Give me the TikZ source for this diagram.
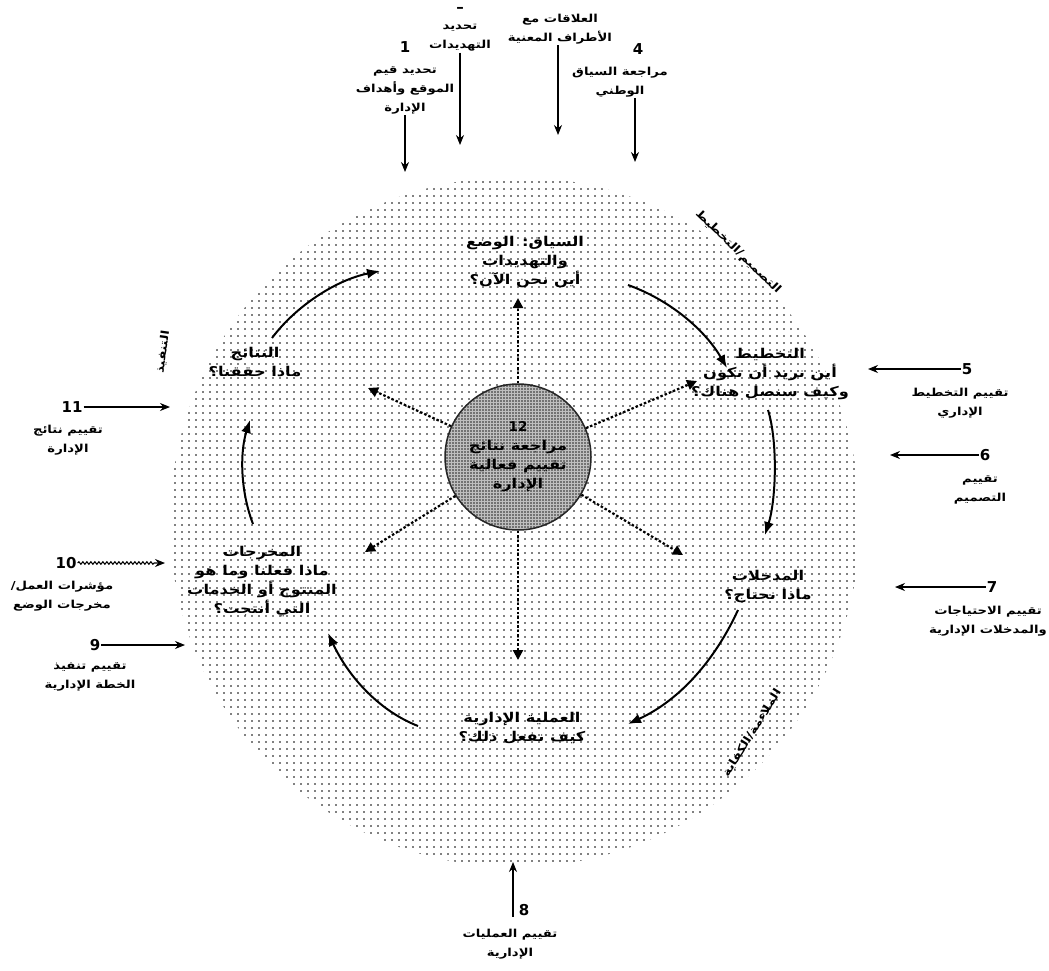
\documentclass[tikz,border=0pt]{standalone}
\usepackage{fontspec}
\newfontfamily\arabicfont[Script=Arabic,FakeStretch=1.2]{DejaVu Sans}
\newfontfamily\numfont{DejaVu Sans}
\TeXXeTstate=1
\usetikzlibrary{arrows.meta,patterns.meta,decorations.pathmorphing}
\newcommand{\ar}[1]{{\arabicfont\beginR #1\endR}}

\begin{document}
\begin{tikzpicture}[x=1pt,y=-1pt,
  stage/.style={font=\fontsize{13.5}{19}\selectfont\bfseries,align=center,inner sep=1pt},
  lbl/.style={font=\fontsize{11}{19}\selectfont\bfseries,align=center,inner sep=1pt},
  num/.style={font=\numfont\fontsize{15}{15}\selectfont\bfseries,inner sep=1pt},
  rim/.style={font=\fontsize{11}{11}\selectfont\bfseries,inner sep=1pt},
  cyc/.style={line width=2pt,-{Latex[length=13pt,width=10pt]}},
  link/.style={line width=2.2pt,dash pattern=on 2.5pt off 2pt,-{Triangle[length=10pt,width=10pt]}},
  feed/.style={line width=1.1pt,-{Stealth[length=10pt,width=8pt]}}]
\useasboundingbox (0,0) rectangle (1049,971);
\fill[white] (0,0) rectangle (1049,971);
\path[pattern={Dots[distance=6.5pt,radius=0.95pt]},pattern color=black] (515,522) circle[radius=345];
\node[circle,minimum size=146pt,inner sep=0pt,fill=gray!50,draw=black!85,line width=1.5pt,
  postaction={pattern={Dots[distance=3pt,radius=0.9pt]},pattern color=black!85},stage] (core) at (518,457)
  {{\numfont 12}\\\ar{مراجعة نتائج}\\\ar{تقييم فعالية}\\\ar{الإدارة}};
\node[stage] (ctx) at (525,262) {\ar{السياق: الوضع}\\\ar{والتهديدات}\\\ar{أين نحن الآن؟}};
\node[stage] (plan) at (770,374) {\ar{التخطيط}\\\ar{أين نريد أن نكون}\\\ar{وكيف سنصل هناك؟}};
\node[stage] (inp) at (768,587) {\ar{المدخلات}\\\ar{ماذا نحتاج؟}};
\node[stage] (proc) at (522,728) {\ar{العملية الإدارية}\\\ar{كيف نفعل ذلك؟}};
\node[stage] (outp) at (262,582) {\ar{المخرجات}\\\ar{ماذا فعلنا وما هو}\\\ar{المنتوج أو الخدمات}\\\ar{التي أنتجت؟}};
\node[stage] (outc) at (255,362) {\ar{النتائج}\\\ar{ماذا حققنا؟}};
\node[rim,rotate=-44] (rimplan) at (738,252) {\ar{التصميم/التخطيط}};
\node[rim,rotate=58] (rimfit) at (752,733) {\ar{الملاءمة/الكفاية}};
\node[rim,rotate=82] (rimdel) at (163,352) {\ar{التنفيذ}};
\coordinate (c1a) at (628,285); \coordinate (c1b) at (727,368);
\coordinate (c2a) at (768,410); \coordinate (c2b) at (765,535);
\coordinate (c3a) at (738,610); \coordinate (c3b) at (628,724);
\coordinate (c4a) at (418,726); \coordinate (c4b) at (328,633);
\coordinate (c5a) at (253,524); \coordinate (c5b) at (250,420);
\coordinate (c6a) at (272,338); \coordinate (c6b) at (380,271);
\draw[cyc] (c1a) .. controls (670,300) and (705,330) .. (c1b);
\draw[cyc] (c2a) .. controls (778,442) and (776,500) .. (c2b);
\draw[cyc] (c3a) .. controls (715,660) and (680,700) .. (c3b);
\draw[cyc] (c4a) .. controls (382,712) and (350,680) .. (c4b);
\draw[cyc] (c5a) .. controls (240,490) and (240,452) .. (c5b);
\draw[cyc] (c6a) .. controls (296,306) and (336,280) .. (c6b);
\coordinate (d1) at (518,298); \coordinate (d2) at (697,381);
\coordinate (d3) at (683,555); \coordinate (d4) at (518,660);
\coordinate (d5) at (365,552); \coordinate (d6) at (368,388);
\foreach \d in {d1,d2,d3,d4,d5,d6}
  \draw[link] (core) -- (\d);
\node[num] (n1) at (405,47) {1};
\node[lbl] (l1) at (405,90) {\ar{تحديد قيم}\\\ar{الموقع وأهداف}\\\ar{الإدارة}};
\node[num] (n2) at (460,10) {–};
\node[lbl] (l2) at (460,38) {\ar{تحديد}\\\ar{التهديدات}};
\node[lbl] (l3) at (560,29) {\ar{العلاقات مع}\\\ar{الأطراف المعنية}};
\node[num] (n4) at (638,49) {4};
\node[lbl] (l4) at (620,82) {\ar{مراجعة السياق}\\\ar{الوطني}};
\node[num] (n5) at (967,369) {5};
\node[lbl] (l5) at (960,403) {\ar{تقييم التخطيط}\\\ar{الإداري}};
\node[num] (n6) at (985,455) {6};
\node[lbl] (l6) at (980,490) {\ar{تقييم}\\\ar{التصميم}};
\node[num] (n7) at (992,587) {7};
\node[lbl] (l7) at (988,621) {\ar{تقييم الاحتياجات}\\\ar{والمدخلات الإدارية}};
\node[num] (n8) at (524,910) {8};
\node[lbl] (l8) at (510,944) {\ar{تقييم العمليات}\\\ar{الإدارية}};
\node[num] (n9) at (95,645) {9};
\node[lbl] (l9) at (90,677) {\ar{تقييم تنفيذ}\\\ar{الخطة الإدارية}};
\node[num] (n10) at (66,563) {10};
\node[lbl] (l10) at (62,596) {\ar{مؤشرات العمل/}\\\ar{مخرجات الوضع}};
\node[num] (n11) at (72,407) {11};
\node[lbl] (l11) at (68,440) {\ar{تقييم نتائج}\\\ar{الإدارة}};
\coordinate (t1) at (405,172); \coordinate (t2) at (460,145);
\coordinate (t3) at (558,135); \coordinate (t4) at (635,162);
\coordinate (t5) at (868,369); \coordinate (t6) at (890,455);
\coordinate (t7) at (895,587); \coordinate (t8) at (513,862);
\coordinate (t9) at (185,645); \coordinate (t10) at (165,563);
\coordinate (t11) at (170,407);
\draw[feed] (l1.south) -- (t1);
\draw[feed] (l2.south) -- (t2);
\draw[feed] (l3.south -| t3) -- (t3);
\draw[feed] (l4.south -| t4) -- (t4);
\draw[feed] (n5.west) -- (t5);
\draw[feed] (n6.west) -- (t6);
\draw[feed] (n7.west) -- (t7);
\draw[feed] (t8 |- n8.south) -- (t8);
\draw[feed] (n9.east) -- (t9);
\draw[feed,decorate,decoration={snake,amplitude=1.2pt,segment length=4pt,post length=10pt}] (n10.east) -- (t10);
\draw[feed] (n11.east) -- (t11);
\end{tikzpicture}
\end{document}
